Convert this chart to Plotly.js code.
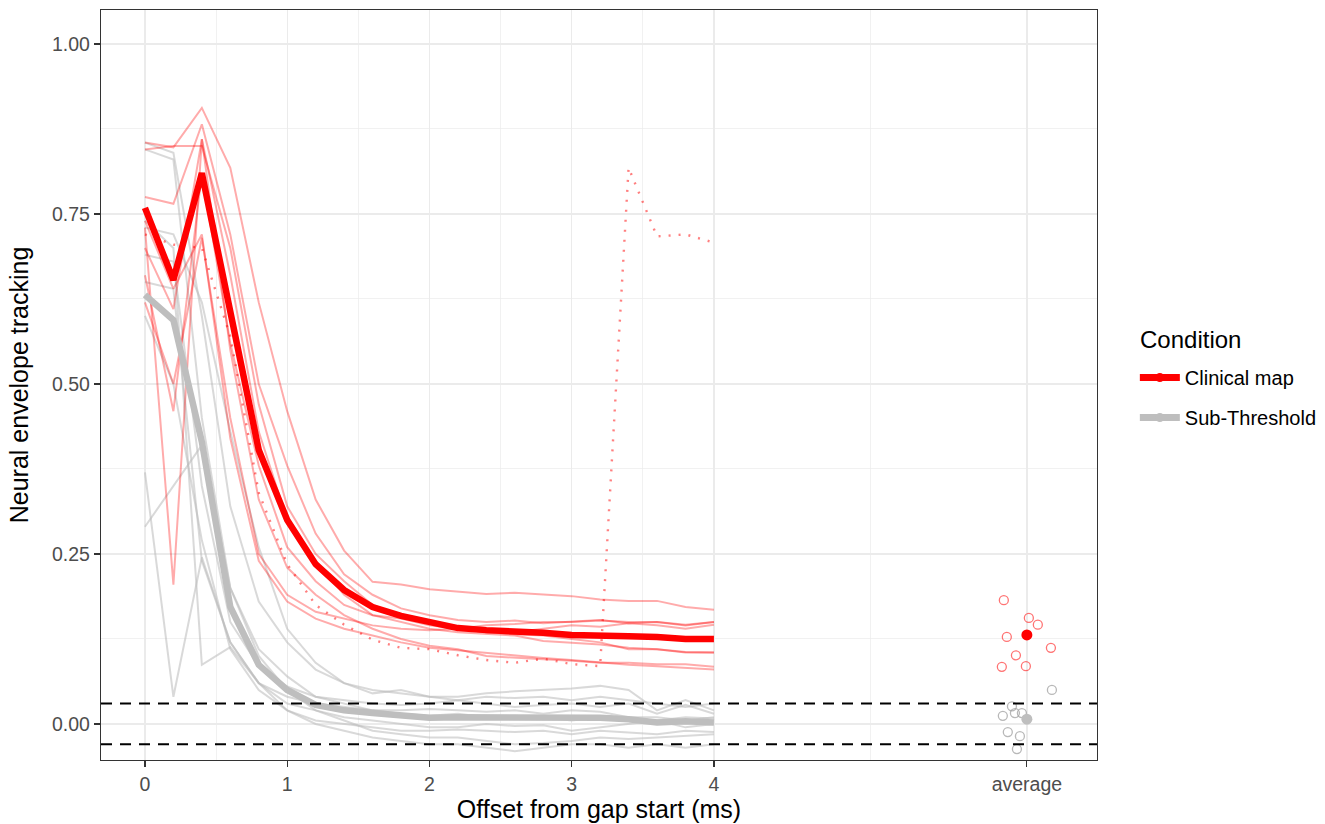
<!DOCTYPE html>
<html>
<head>
<meta charset="utf-8">
<script src="https://cdn.plot.ly/plotly-3.0.1.min.js"></script>
<style>html,body{margin:0;padding:0;background:#fff;}#chart{width:1325px;height:824px;}</style>
</head>
<body>
<div id="chart"></div>
<script>
// ---------- data ----------
const offsetMs = [0,0.2,0.4,0.6,0.8,1.0,1.2,1.4,1.6,1.8,2.0,2.2,2.4,2.6,2.8,3.0,3.2,3.4,3.6,3.8,4.0];

const clinicalMean = [0.759,0.653,0.810,0.610,0.403,0.300,0.235,0.197,0.172,0.159,0.149,0.141,0.138,0.137,0.134,0.131,0.129,0.129,0.128,0.125,0.125];
const subThresholdMean = [0.631,0.594,0.415,0.172,0.087,0.050,0.028,0.020,0.016,0.012,0.009,0.010,0.010,0.009,0.009,0.009,0.009,0.007,0.002,0.004,0.002];

const clinicalSubjects = [
  [0.855,0.848,0.906,0.818,0.620,0.460,0.330,0.255,0.209,0.205,0.198,0.194,0.191,0.193,0.190,0.188,0.183,0.181,0.181,0.172,0.168],
  [0.775,0.765,0.882,0.720,0.500,0.380,0.280,0.220,0.190,0.170,0.160,0.153,0.150,0.152,0.148,0.150,0.153,0.148,0.150,0.146,0.150],
  [0.845,0.850,0.850,0.700,0.470,0.320,0.250,0.210,0.175,0.160,0.150,0.140,0.135,0.135,0.140,0.145,0.143,0.148,0.145,0.140,0.146],
  [0.730,0.205,0.860,0.660,0.430,0.300,0.240,0.190,0.160,0.150,0.140,0.135,0.133,0.130,0.122,0.120,0.117,0.112,0.110,0.105,0.105],
  [0.660,0.460,0.810,0.560,0.380,0.260,0.210,0.175,0.160,0.155,0.145,0.140,0.135,0.132,0.130,0.125,0.120,0.110,0.110,0.106,0.105],
  [0.620,0.500,0.715,0.450,0.250,0.190,0.165,0.155,0.145,0.140,0.138,0.140,0.145,0.147,0.150,0.150,0.152,0.150,0.150,0.145,0.150],
  [0.740,0.640,0.720,0.420,0.240,0.180,0.155,0.140,0.130,0.120,0.112,0.108,0.104,0.100,0.097,0.094,0.090,0.087,0.085,0.082,0.080],
  [0.700,0.610,0.860,0.550,0.330,0.230,0.190,0.160,0.140,0.125,0.115,0.110,0.100,0.097,0.095,0.093,0.090,0.090,0.088,0.088,0.084]
];
const clinicalOutlier = [0.720,0.705,0.700,0.570,0.340,0.235,0.175,0.146,0.124,0.112,0.110,0.101,0.094,0.090,0.096,0.088,0.085,0.818,0.717,0.720,0.708];

const subThresholdSubjects = [
  [0.855,0.840,0.600,0.320,0.180,0.120,0.080,0.060,0.050,0.045,0.040,0.040,0.045,0.048,0.050,0.052,0.056,0.050,0.020,0.035,0.020],
  [0.845,0.830,0.450,0.200,0.110,0.070,0.040,0.035,0.030,0.028,0.030,0.035,0.030,0.025,0.028,0.030,0.025,0.030,0.015,0.028,0.015],
  [0.730,0.720,0.620,0.430,0.260,0.140,0.090,0.060,0.045,0.050,0.040,0.035,0.040,0.038,0.040,0.035,0.040,0.035,0.030,0.025,0.030],
  [0.690,0.680,0.350,0.150,0.085,0.055,0.040,0.030,0.020,0.015,0.012,0.015,0.010,0.012,0.010,0.005,0.010,0.008,0.005,0.010,0.008],
  [0.650,0.640,0.240,0.120,0.060,0.030,0.020,0.010,0.005,0.000,-0.005,-0.005,0.000,-0.003,-0.002,-0.010,-0.005,0.000,0.005,-0.005,0.000],
  [0.600,0.500,0.270,0.110,0.050,0.020,0.005,0.000,-0.005,-0.010,-0.010,-0.008,-0.010,-0.012,-0.010,-0.015,-0.010,-0.012,-0.015,-0.010,-0.012],
  [0.370,0.040,0.245,0.120,0.060,0.020,0.000,-0.010,-0.020,-0.025,-0.030,-0.030,-0.035,-0.040,-0.035,-0.030,-0.030,-0.035,-0.030,-0.035,-0.030],
  [0.290,0.350,0.410,0.200,0.100,0.050,0.020,0.005,-0.010,-0.015,-0.020,-0.020,-0.025,-0.030,-0.028,-0.025,-0.020,-0.022,-0.020,-0.018,-0.015],
  [0.740,0.700,0.087,0.113,0.060,0.040,0.030,0.025,0.020,0.020,0.022,0.020,0.018,0.020,0.015,0.020,0.018,0.010,0.010,0.005,0.010]
];

// "average" column
const avgLabel = 'average';
const avgPos = 6.2;
const clinicalAvgSubjects = [0.182,0.156,0.146,0.128,0.112,0.101,0.084,0.085];
const clinicalAvgJitter   = [-0.162,0.014,0.077,-0.141,0.169,-0.077,-0.176,-0.007];
const clinicalAvgMean = 0.131;
const subAvgSubjects = [0.050,0.026,0.016,0.016,0.012,-0.012,-0.018,-0.037];
const subAvgJitter   = [0.176,-0.105,-0.084,-0.035,-0.169,-0.134,-0.049,-0.070];
const subAvgMean = 0.007;

const thresholds = [0.03, -0.03];
const legendTitle = 'Condition';
const conditions = ['Clinical map', 'Sub-Threshold'];
const xTickVals = [0,1,2,3,4];

// ---------- styles ----------
const RED = '#FF0000';
const GREY = '#BEBEBE';
const RED_THIN = 'rgba(255,0,0,0.33)';
const GREY_THIN = 'rgba(185,185,185,0.55)';

const traces = [];
subThresholdSubjects.forEach(s => traces.push({
  x: offsetMs, y: s, type: 'scatter', mode: 'lines',
  line: {color: GREY_THIN, width: 2}, showlegend: false, hoverinfo: 'skip'
}));
clinicalSubjects.forEach(s => traces.push({
  x: offsetMs, y: s, type: 'scatter', mode: 'lines',
  line: {color: RED_THIN, width: 2}, showlegend: false, hoverinfo: 'skip'
}));
traces.push({
  x: offsetMs, y: clinicalOutlier, type: 'scatter', mode: 'lines',
  line: {color: 'rgba(255,0,0,0.5)', width: 2.4, dash: '2px,8px'}, showlegend: false
});
traces.push({
  x: offsetMs, y: subThresholdMean, type: 'scatter', mode: 'lines',
  line: {color: GREY, width: 6.5}, showlegend: false
});
traces.push({
  x: offsetMs, y: clinicalMean, type: 'scatter', mode: 'lines',
  line: {color: RED, width: 6.5}, showlegend: false
});
// average column
traces.push({
  x: subAvgJitter.map(j => avgPos + j), y: subAvgSubjects, type: 'scatter', mode: 'markers',
  marker: {symbol: 'circle-open', size: 9, color: 'rgba(160,160,160,0.75)', line: {width: 1.3}}, showlegend: false
});
traces.push({
  x: clinicalAvgJitter.map(j => avgPos + j), y: clinicalAvgSubjects, type: 'scatter', mode: 'markers',
  marker: {symbol: 'circle-open', size: 9, color: 'rgba(255,0,0,0.55)', line: {width: 1.3}}, showlegend: false
});
traces.push({
  x: [avgPos], y: [subAvgMean], type: 'scatter', mode: 'markers',
  marker: {size: 11, color: GREY}, showlegend: false
});
traces.push({
  x: [avgPos], y: [clinicalAvgMean], type: 'scatter', mode: 'markers',
  marker: {size: 11, color: RED}, showlegend: false
});
// legend entries
[RED, GREY].forEach((c, i) => traces.push({
  x: [null], y: [null], type: 'scatter', mode: 'lines+markers', name: conditions[i],
  legendgroup: 'g' + i, line: {color: c, width: 7}, marker: {color: c, size: 9}
}));

const minorX = xTickVals.slice(0, -1).map(v => v + 0.5).concat([(xTickVals[xTickVals.length - 1] + avgPos) / 2]);

const layout = {
  width: 1325, height: 824,
  margin: {l: 101, r: 228, t: 10, b: 64, autoexpand: false},
  paper_bgcolor: '#fff', plot_bgcolor: '#fff',
  font: {family: 'Liberation Sans, Arial, sans-serif', color: '#000'},
  xaxis: {
    range: [-0.309, 6.693],
    tickmode: 'array', tickvals: xTickVals.concat([avgPos]), ticktext: xTickVals.map(String).concat([avgLabel]),
    showgrid: true, gridcolor: '#EBEBEB', gridwidth: 1.4,
    minor: {tickmode: 'array', tickvals: minorX, showgrid: true, gridcolor: '#EBEBEB', gridwidth: 0.7, ticks: ''},
    ticks: 'outside', ticklen: 6, tickwidth: 1.2, tickcolor: '#333333',
    tickfont: {size: 19.5, color: '#4D4D4D'},
    showline: true, mirror: true, linecolor: '#333333', linewidth: 1.2,
    zeroline: false, automargin: false,
    title: {text: 'Offset from gap start (ms)', font: {size: 25, color: '#000'}, standoff: 3}
  },
  yaxis: {
    range: [-0.053, 1.05],
    tickmode: 'array', tickvals: [0, 0.25, 0.5, 0.75, 1], tickformat: '.2f',
    showgrid: true, gridcolor: '#EBEBEB', gridwidth: 1.4,
    minor: {tickmode: 'array', tickvals: [0.125, 0.375, 0.625, 0.875], showgrid: true, gridcolor: '#EBEBEB', gridwidth: 0.7, ticks: ''},
    ticks: 'outside', ticklen: 6, tickwidth: 1.2, tickcolor: '#333333',
    tickfont: {size: 19.5, color: '#4D4D4D'},
    showline: true, mirror: true, linecolor: '#333333', linewidth: 1.2,
    zeroline: false, automargin: false,
    title: {text: 'Neural envelope tracking', font: {size: 25, color: '#000'}, standoff: 16}
  },
  shapes: thresholds.map(t => ({
    type: 'line', xref: 'paper', x0: 0, x1: 1, yref: 'y', y0: t, y1: t,
    line: {color: '#000', width: 2, dash: '11px,8px'}, layer: 'above'
  })),
  annotations: [{
    text: legendTitle, xref: 'paper', yref: 'paper', x: 1.041, y: 0.56,
    xanchor: 'left', yanchor: 'middle', showarrow: false,
    font: {size: 24, color: '#000'}
  }],
  legend: {
    x: 1.038, xanchor: 'left', y: 0.536, yanchor: 'top',
    font: {size: 20, color: '#000'},
    itemwidth: 40,
    traceorder: 'grouped', tracegroupgap: 11,
    bgcolor: 'rgba(0,0,0,0)'
  },
  showlegend: true
};

Plotly.newPlot('chart', traces, layout, {displayModeBar: false, staticPlot: true});
</script>
</body>
</html>
